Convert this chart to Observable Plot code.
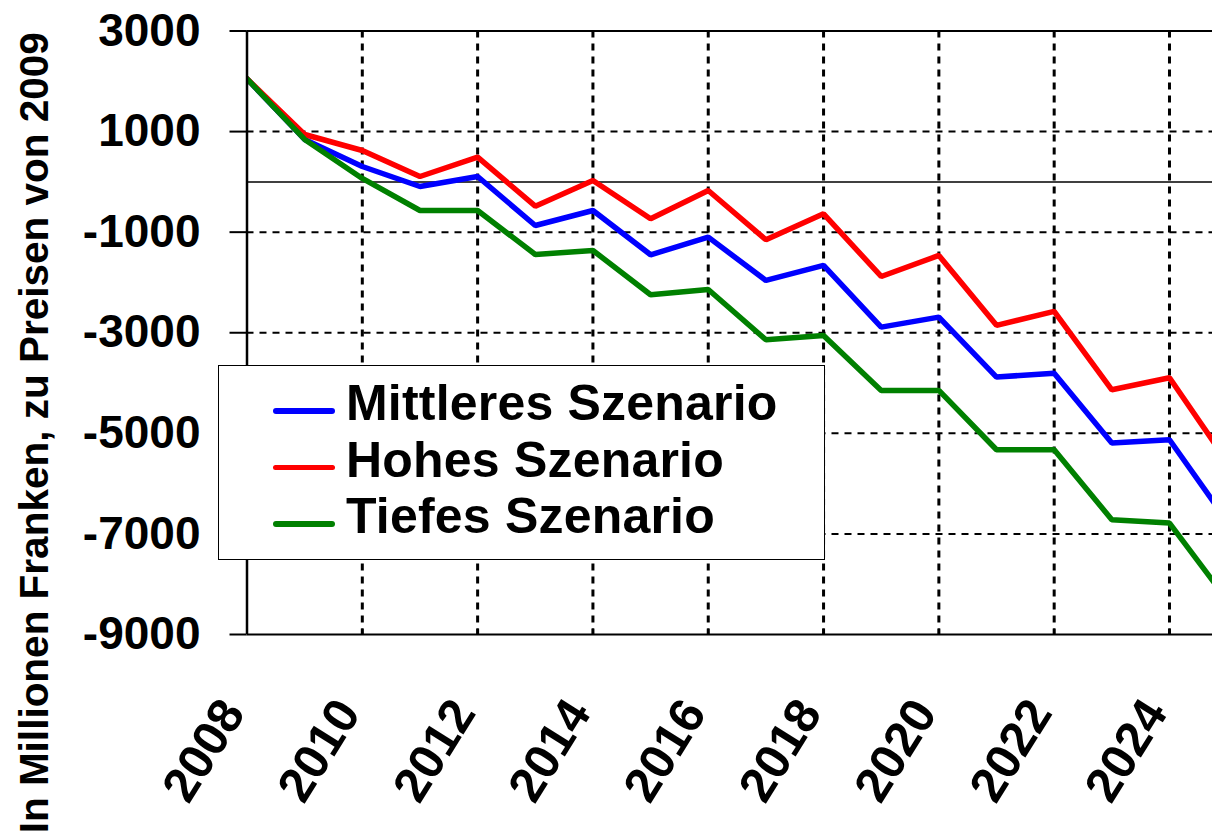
<!DOCTYPE html>
<html>
<head>
<meta charset="utf-8">
<script src="https://cdn.jsdelivr.net/npm/d3@7"></script>
<script src="https://cdn.jsdelivr.net/npm/@observablehq/plot@0.6"></script>
<style>
  html, body { margin: 0; padding: 0; background: #fff; }
  #wrap { position: relative; width: 1212px; height: 836px; overflow: hidden; font-family: "Liberation Sans", Arial, sans-serif; font-weight: bold; }
  #legend { position: absolute; left: 218px; top: 365px; width: 605px; height: 184px; border: 1.5px solid #000; background: #fff; padding-top: 9px; box-sizing: content-box; }
  .row { position: relative; height: 56.5px; line-height: 56.5px; font-size: 50px; white-space: nowrap; }
  .sw { position: absolute; left: 54px; top: 33px; width: 62px; height: 5.5px; border-radius: 3px; }
  .lab { position: absolute; left: 127px; top: 0; letter-spacing: 0.2px; }
</style>
</head>
<body>
<div id="wrap"><div id="chart"></div><div id="legend"></div></div>
<script>
const years = [2008, 2009, 2010, 2011, 2012, 2013, 2014, 2015, 2016, 2017, 2018, 2019, 2020, 2021, 2022, 2023, 2024, 2025];
const mittleres = [2050, 843, 306, -92, 107, -867, -569, -1450, -1099, -1960, -1662, -2888, -2689, -3882, -3803, -5194, -5127, -6745];
const hohes     = [2050, 942, 624, 107, 491, -483, 28, -734, -171, -1151, -635, -1881, -1463, -2853, -2575, -4134, -3895, -5565];
const tiefes    = [2050, 843, 68, -569, -569, -1443, -1364, -2245, -2139, -3139, -3054, -4147, -4147, -5326, -5326, -6718, -6785, -8313];

const seriesNames = ["Mittleres Szenario", "Hohes Szenario", "Tiefes Szenario"];
const seriesColors = ["#0000ff", "#ff0000", "#008000"];
const seriesValues = [mittleres, hohes, tiefes];

const yTicks = [3000, 1000, -1000, -3000, -5000, -7000, -9000];
const yGrid = [1000, -1000, -3000, -5000, -7000];
const xTicks = [2008, 2010, 2012, 2014, 2016, 2018, 2020, 2022, 2024];
const xGrid = [2010, 2012, 2014, 2016, 2018, 2020, 2022, 2024];
const yLabel = "In Millionen Franken, zu Preisen von 2009";
const xMax = 2024.746;

const rows = [];
seriesNames.forEach((name, i) => {
  years.forEach((yr, j) => rows.push({series: name, year: yr, value: seriesValues[i][j]}));
});

const chart = Plot.plot({
  width: 1212,
  height: 836,
  marginLeft: 246.5,
  marginRight: 0,
  marginTop: 30.5,
  marginBottom: 202,
  style: {fontFamily: "'Liberation Sans', Arial, sans-serif", fontWeight: "bold", background: "#fff", color: "#000"},
  x: {domain: [2008, xMax]},
  y: {domain: [-9000, 3000]},
  marks: [
    Plot.gridY({ticks: yGrid, stroke: "#000", strokeOpacity: 1, strokeWidth: 2, strokeDasharray: "7,6"}),
    Plot.gridX({ticks: xGrid, stroke: "#000", strokeOpacity: 1, strokeWidth: 3, strokeDasharray: "7,6"}),
    Plot.ruleY([0], {stroke: "#000", strokeWidth: 1.5}),
    Plot.ruleY([3000, -9000], {stroke: "#000", strokeWidth: 2}),
    Plot.ruleX(xGrid, {y1: -9000, y2: -8890, stroke: "#000", strokeWidth: 2}),
    Plot.axisY({ticks: yTicks, tickSize: 17, tickPadding: 29.5, fontSize: 46, tickFormat: d => String(d), strokeWidth: 2, label: null}),
    Plot.axisX({ticks: xTicks, tickSize: 0, tickPadding: 70, tickRotate: -58, dx: -14, fontSize: 49, tickFormat: d => String(d), label: null}),
    Plot.text([yLabel], {frameAnchor: "left", textAnchor: "middle", rotate: -90, dx: -211.5, dy: 100, fontSize: 40.5, fill: "#000", text: d => d}),
    Plot.line(rows, {x: "year", y: "value", z: "series", stroke: "series", strokeWidth: 5.5, clip: true, strokeLinejoin: "miter"}),
    Plot.ruleX([2008], {stroke: "#000", strokeWidth: 2.5})
  ],
  color: {domain: seriesNames, range: seriesColors}
});
document.getElementById("chart").appendChild(chart);

const legend = document.getElementById("legend");
seriesNames.forEach((name, i) => {
  const row = document.createElement("div");
  row.className = "row";
  const sw = document.createElement("div");
  sw.className = "sw";
  sw.style.background = seriesColors[i];
  const lab = document.createElement("span");
  lab.className = "lab";
  lab.textContent = name;
  row.appendChild(sw);
  row.appendChild(lab);
  legend.appendChild(row);
});
</script>
</body>
</html>
